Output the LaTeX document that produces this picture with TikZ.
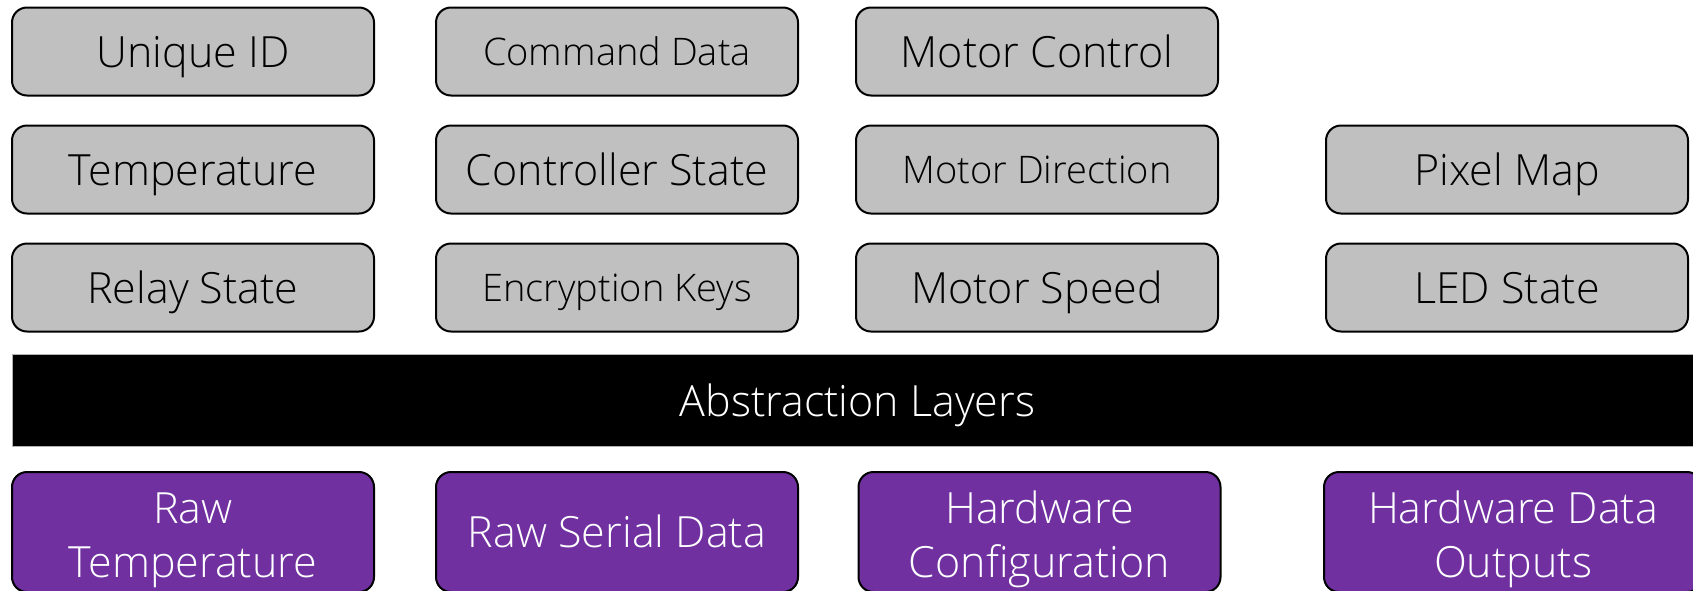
\documentclass[tikz,border=0pt]{standalone}
\usepackage{fontspec}
\setmainfont{Open Sans}[UprightFont=* Light]
\usepackage{xcolor}
\usepackage{tikz}
\usetikzlibrary{positioning}
\definecolor{fieldgrey}{HTML}{C0C0C0}
\definecolor{rawpurple}{HTML}{7030A0}
\tikzstyle{field} = [rectangle, rounded corners=15pt, minimum width=362pt, minimum height=88pt, text centered, text height=31pt, text depth=0pt, draw=black, line width=2pt, fill=fieldgrey, font=\fontsize{43}{54}\selectfont]
\tikzstyle{small} = [font=\fontsize{38}{48}\selectfont, text height=27pt]
\tikzstyle{raw} = [field, fill=rawpurple, text=white, align=center, minimum height=120pt]
\tikzstyle{twoline} = [text height=90pt, text depth=0pt]
\tikzstyle{layer} = [rectangle, fill=black, draw=gray!60, line width=1pt, text=white, text height=31pt, text depth=0pt, minimum width=1691pt, minimum height=92pt, font=\fontsize{43}{54}\selectfont]

\begin{document}
\begin{tikzpicture}[x=1pt, y=-1pt, node distance=28pt and 61pt]
    \useasboundingbox (0,0) rectangle (1693,590);
    \clip (0,0) rectangle (1693,590);
    % fields
    \node[field] (uid) at (193,51.5) {Unique ID};
    \node[field, below=of uid] (temp) {Temperature};
    \node[field, below=of temp] (relay) {Relay State};
    \node[field, small] (cmd) at (617,51.5) {Command Data};
    \node[field, below=of cmd] (ctrl) {Controller State};
    \node[field, small, below=of ctrl] (keys) {Encryption Keys};
    \node[field] (motor) at (1037,51.5) {Motor Control};
    \node[field, small, below=of motor] (dir) {Motor Direction};
    \node[field, below=of dir] (speed) {Motor Speed};
    \node[field, right=106pt of dir] (pixel) {Pixel Map};
    \node[field, below=of pixel] (led) {LED State};
    % layer
    \node[layer] (abs) at (857.5,400.5) {Abstraction Layers};
    % raw data
    \node[raw, twoline] (rawtemp) at (193,532) {Raw\\Temperature};
    \node[raw] (serial) at (617,532) {Raw Serial Data};
    \node[raw, twoline] (hwcfg) at (1039.5,532) {Hardware\\Configuration};
    \node[raw, twoline, minimum width=378pt] (hwout) at (1513,532) {Hardware Data\\Outputs};
\end{tikzpicture}
\end{document}
